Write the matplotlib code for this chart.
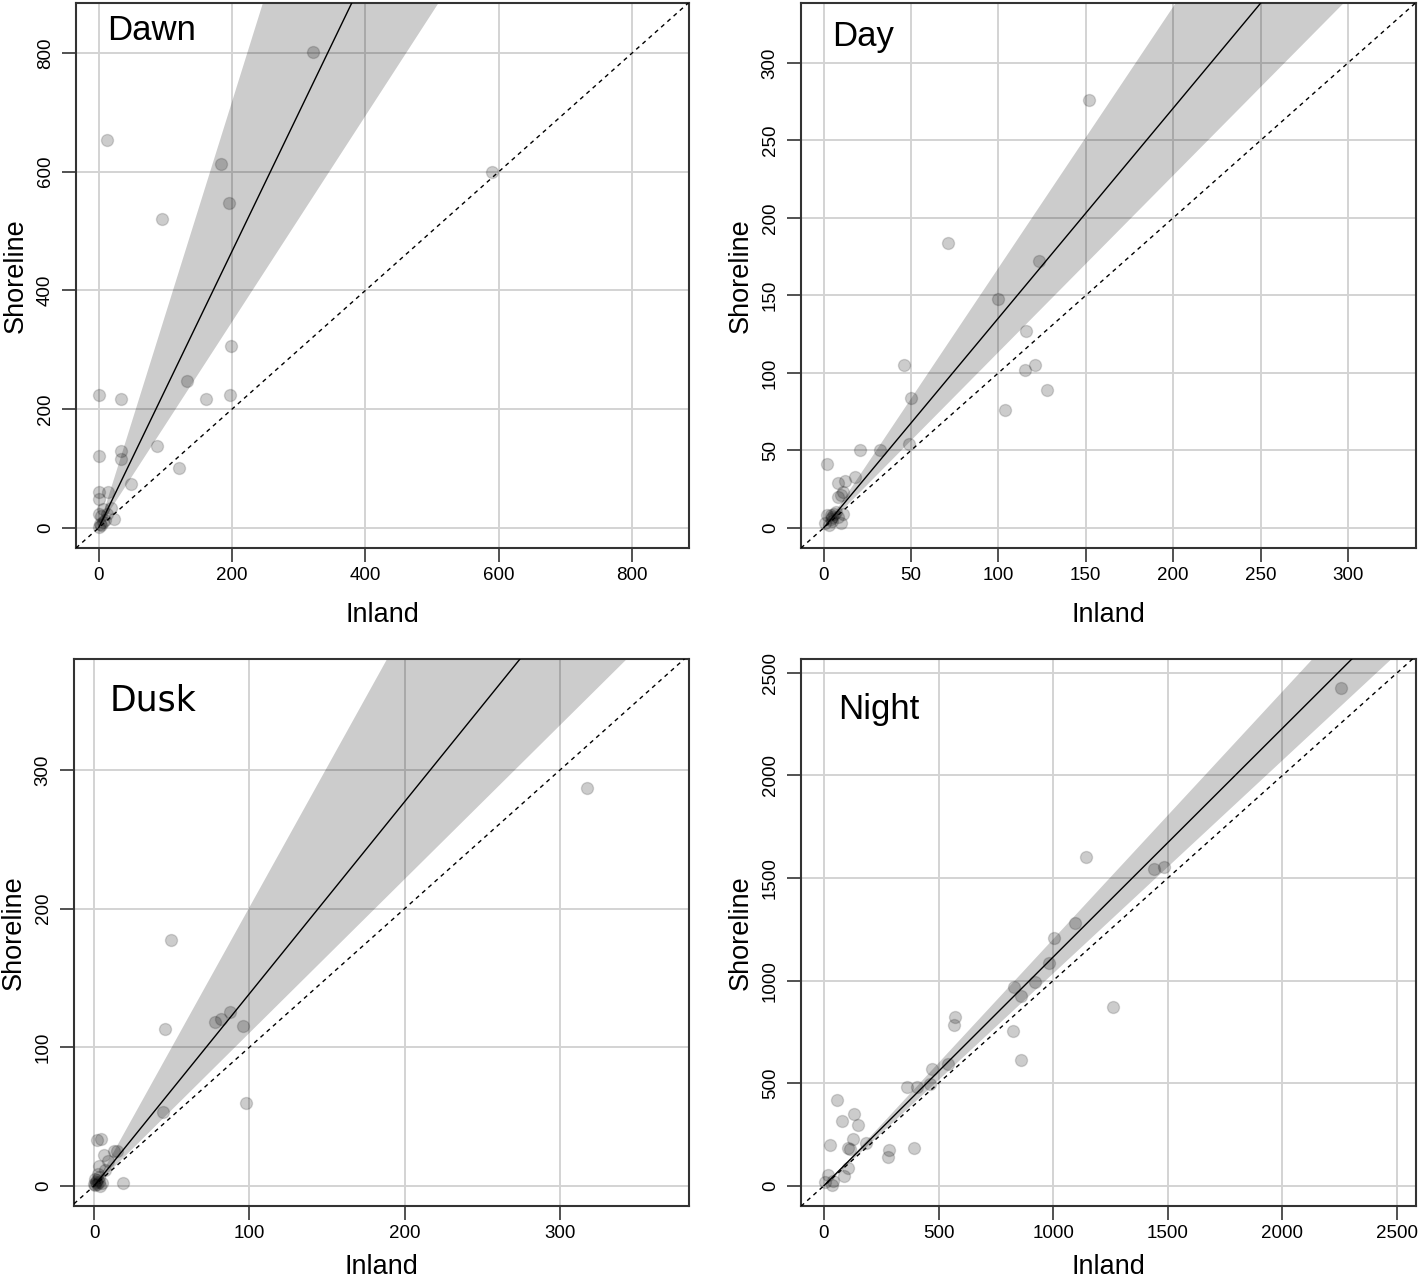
import matplotlib
matplotlib.use("Agg")
import matplotlib.pyplot as plt
import numpy as np

# ---------------- data ----------------
panels = ["Dawn", "Day", "Dusk", "Night"]

dawn_x = [322, 12, 184, 196, 95, 589, 198, 132, 0, 33, 161, 197, 88, 33, 34, 0, 121, 49, 14, 0, 0,
          19, 23, 6, 1, 12, 9, 2, 4, 0, 7, 3]
dawn_y = [802, 654, 613, 547, 521, 600, 307, 247, 223, 217, 217, 223, 138, 129, 116, 121, 100, 73, 61, 61, 49,
          33, 15, 32, 24, 23, 14, 7, 5, 2, 10, 20]

day_x = [152, 71, 123, 100, 116, 46, 121, 115, 128, 104, 50, 49, 21, 32, 2, 18, 8, 12, 8, 10, 11,
         2, 4, 6, 5, 11, 10, 1, 3, 5, 8, 7, 4]
day_y = [276, 184, 172, 148, 127, 105, 105, 102, 89, 76, 84, 54, 50, 50, 41, 33, 29, 30, 20, 21, 23,
         8.5, 8.5, 9, 7, 9, 3, 3, 1.6, 4.6, 7, 10, 6]

dusk_x = [317, 49.7, 45.5, 77.5, 81.4, 87.5, 95.7, 97.5, 44.4, 2, 4.5, 13, 15, 6, 8.7, 3.4, 18.5, 7, 2.6,
          0.5, 1, 2, 3, 0.5, 4, 5, 1.5, 0, 3]
dusk_y = [287, 177, 113, 118, 120, 125, 115, 60, 53, 33, 34, 25, 25, 22.5, 18, 14, 2, 11.6, 8.3,
          5, 2.5, 1, 3, 0.5, 0, 2, 4, 1, 6]

night_x = [2254, 1142, 1440, 1482, 1096, 1005, 980, 830, 920, 860, 1262, 574, 569, 826, 860, 543, 470, 461,
           408, 363, 58.5, 131, 78, 149, 128, 183, 28, 105, 112, 284, 280, 394, 105, 87, 18, 41, 35, 5]
night_y = [2425, 1601, 1545, 1556, 1282, 1209, 1084, 970, 993, 927, 871, 821, 784, 754, 615, 594, 570, 495,
           479, 481, 416, 348, 315, 294, 230, 209, 199, 183, 178, 174, 141, 183, 84, 47, 52, 23, 5, 17]

# fitted slope (Shoreline / Inland) and its interval
fit_slope = [2.33, 1.354, 1.386, 1.115]
band_lo = [1.735, 1.14, 1.11, 1.039]
band_hi = [3.59, 1.685, 2.02, 1.207]

ticks = [[0, 200, 400, 600, 800],
         [0, 50, 100, 150, 200, 250, 300],
         [0, 100, 200, 300],
         [0, 500, 1000, 1500, 2000, 2500]]

xs = [dawn_x, day_x, dusk_x, night_x]
ys = [dawn_y, day_y, dusk_y, night_y]

# ---------------- layout / style ----------------
W, H = 1418, 1280
fig = plt.figure(figsize=(W / 100, H / 100), dpi=100)

# (left, top, right, bottom) in pixels
boxes = [(76, 3, 689, 548), (801, 3, 1416, 548), (74, 659, 689, 1206), (801, 659, 1416, 1206)]
xlims = [(-34, 885), (-13, 339), (-13, 383), (-100, 2583)]
ylims = [(-34, 884), (-13, 338.7), (-14.6, 380), (-99, 2568)]
xlabel_pad = [13, 13, 8, 8]
# title anchor (axes fraction, baseline) and font
title_pos = [(0.0506, 0.932), (0.0504, 0.921), (0.0585, 0.905), (0.060, 0.89)]
title_font = ["Liberation Sans", "Liberation Sans", "DejaVu Sans", "Liberation Sans"]

tick_font = "Liberation Sans"
band_color = (0, 0, 0, 0.2)

for i, name in enumerate(panels):
    l, t, r, b = boxes[i]
    ax = fig.add_axes([l / W, 1 - b / H, (r - l) / W, (b - t) / H])
    ax.set_xlim(*xlims[i])
    ax.set_ylim(*ylims[i])
    ax.set_xticks(ticks[i])
    ax.set_yticks(ticks[i])
    ax.grid(True, color="#d3d3d3", linewidth=1.4, zorder=0)
    ax.set_axisbelow(True)

    x0, x1 = xlims[i]
    xx = np.linspace(0, x1, 200)
    ax.fill_between(xx, band_lo[i] * xx, band_hi[i] * xx, color=band_color, linewidth=0, zorder=1)
    ax.plot(xx, fit_slope[i] * xx, color="black", linewidth=1.0, zorder=3)
    ax.plot([x0, x1], [x0, x1], color="black", linestyle=(0, (3, 3)), linewidth=1.0, zorder=3)

    ax.scatter(xs[i], ys[i], s=75, facecolor=(0, 0, 0, 0.2), edgecolor=(0, 0, 0, 0.15),
               linewidth=1.0, zorder=4)

    for sp in ax.spines.values():
        sp.set_color("#333333")
        sp.set_linewidth(1.5)
    ax.tick_params(direction="out", length=10, width=1.2, color="#333333", labelsize=13.5)
    ax.tick_params(axis="x", pad=4)
    ax.tick_params(axis="y", pad=6)
    for lab in ax.get_xticklabels() + ax.get_yticklabels():
        lab.set_fontfamily(tick_font)
    for lab in ax.get_yticklabels():
        lab.set_rotation(90)
        lab.set_va("center")

    ax.set_xlabel("Inland", fontsize=19.5, fontfamily=tick_font, labelpad=xlabel_pad[i])
    ax.set_ylabel("Shoreline", fontsize=19.5, fontfamily=tick_font, labelpad=6)

    ax.text(title_pos[i][0], title_pos[i][1], name, transform=ax.transAxes,
            fontsize=25, fontfamily=title_font[i], ha="left", va="baseline")

fig.savefig("out.png", dpi=100)
